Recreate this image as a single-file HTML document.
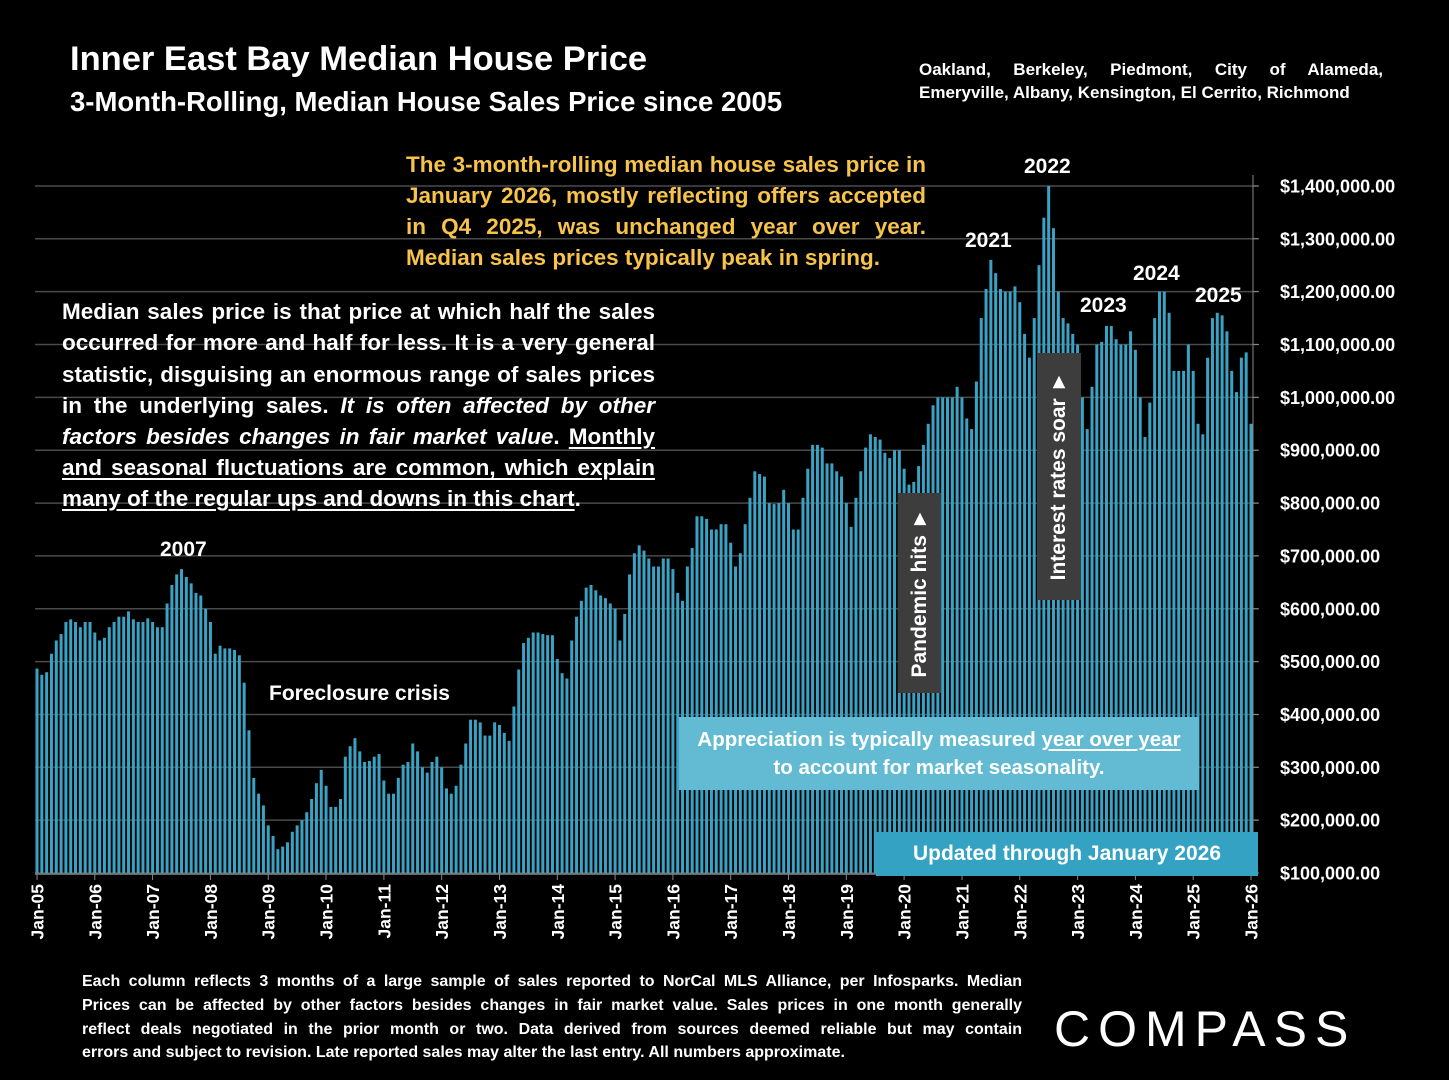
<!DOCTYPE html>
<html><head><meta charset="utf-8"><style>
body{margin:0;background:#000;width:1449px;height:1080px;overflow:hidden;position:relative;font-family:"Liberation Sans",sans-serif;}
.t{position:absolute;color:#fff;font-weight:bold;white-space:nowrap;}
.j{position:absolute;font-weight:bold;text-align:justify;text-align-last:justify;white-space:nowrap;}
.l{position:absolute;font-weight:bold;white-space:nowrap;}
u{text-decoration:underline;text-underline-offset:3px}
</style></head><body>
<svg id="s" width="1449" height="1080" style="position:absolute;left:0;top:0"></svg>
<div class="t" style="left:70px;top:40px;font-size:34.5px">Inner East Bay Median House Price</div>
<div class="t" style="left:70px;top:86px;font-size:27.5px">3-Month-Rolling, Median House Sales Price since 2005</div>
<div class="j" style="left:919px;top:60px;width:464px;font-size:17px;color:#fff">Oakland, Berkeley, Piedmont, City of Alameda,</div>
<div class="l" style="left:919px;top:83px;font-size:17px;color:#fff">Emeryville, Albany, Kensington, El Cerrito, Richmond</div>

<div style="color:#f7c34a;font-size:22.5px">
<div class="j" style="left:406px;top:152px;width:520px">The 3-month-rolling median house sales price in</div>
<div class="j" style="left:406px;top:183px;width:520px">January 2026, mostly reflecting offers accepted</div>
<div class="j" style="left:406px;top:214px;width:520px">in Q4 2025, was unchanged year over year.</div>
<div class="l" style="left:406px;top:245px;">Median sales prices typically peak in spring.</div>
</div>
<div style="color:#fff;font-size:22.5px">
<div class="j" style="left:62px;top:299px;width:593px">Median sales price is that price at which half the sales</div>
<div class="j" style="left:62px;top:330px;width:593px">occurred for more and half for less. It is a very general</div>
<div class="j" style="left:62px;top:362px;width:593px">statistic, disguising an enormous range of sales prices</div>
<div class="j" style="left:62px;top:393px;width:593px">in the underlying sales. <i>It is often affected by other</i></div>
<div class="j" style="left:62px;top:424px;width:593px"><i>factors besides changes in fair market value</i>. <u>Monthly</u></div>
<div class="j" style="left:62px;top:455px;width:593px"><u>and seasonal fluctuations are common, which explain</u></div>
<div class="l" style="left:62px;top:486px;"><u>many of the regular ups and downs in this chart</u>.</div>
</div>

<div class="t" style="left:160px;top:538px;font-size:21px">2007</div>
<div class="t" style="left:269px;top:682px;font-size:21px">Foreclosure crisis</div>
<div class="t" style="left:965px;top:229px;font-size:21px">2021</div>
<div class="t" style="left:1024px;top:155px;font-size:21px">2022</div>
<div class="t" style="left:1080px;top:294px;font-size:21px">2023</div>
<div class="t" style="left:1133px;top:262px;font-size:21px">2024</div>
<div class="t" style="left:1195px;top:284px;font-size:21px">2025</div>

<div style="position:absolute;left:679px;top:717px;width:520px;height:73px;background:#62bbd3;color:#fff;font-weight:bold;font-size:20.5px;text-align:center;line-height:28px;padding-top:9px;box-sizing:border-box">Appreciation is typically measured <u>year over year</u><br>to account for market seasonality.</div>
<div style="position:absolute;left:876px;top:832px;width:382px;height:44px;background:#34a2c2;color:#fff;font-weight:bold;font-size:21px;text-align:center;line-height:44px">Updated through January 2026</div>

<div style="position:absolute;left:898px;top:493px;width:43px;height:200px;background:#3d3d3d"></div>
<div class="t" style="left:920px;top:593px;font-size:21px;transform:translate(-50%,-50%) rotate(-90deg)">Pandemic hits ►</div>
<div style="position:absolute;left:1037px;top:353px;width:44px;height:247px;background:#3d3d3d"></div>
<div class="t" style="left:1059px;top:476px;font-size:21px;transform:translate(-50%,-50%) rotate(-90deg)">Interest rates soar ►</div>

<div style="position:absolute;left:82px;top:970px;color:#fff;font-weight:bold;font-size:16px;line-height:23.8px">
<div class="j" style="position:relative;width:940px">Each column reflects 3 months of a large sample of sales reported to NorCal MLS Alliance, per Infosparks. Median</div>
<div class="j" style="position:relative;width:940px">Prices can be affected by other factors besides changes in fair market value. Sales prices in one month generally</div>
<div class="j" style="position:relative;width:940px">reflect deals negotiated in the prior month or two. Data derived from sources deemed reliable but may contain</div>
<div class="l" style="position:relative;">errors and subject to revision. Late reported sales may alter the last entry. All numbers approximate.</div>
</div>
<div class="t" style="left:1054px;top:1000px;font-size:50px;font-weight:normal;letter-spacing:8px">COMPASS</div>

<script>
const v=[487,475,480,515,540,552,575,580,575,565,575,575,
555,540,545,565,575,585,585,595,580,575,575,582,
575,565,565,610,645,665,675,660,648,630,625,600,
575,515,530,525,525,522,512,460,370,280,250,228,
190,170,145,150,158,178,190,200,215,240,270,295,
265,225,225,240,320,340,355,330,310,312,320,325,
275,250,250,280,305,310,345,330,300,290,310,320,
300,260,250,265,305,345,390,390,385,360,360,385,
380,365,350,415,485,535,545,555,555,552,550,550,
505,478,468,540,585,615,640,645,635,625,620,610,
600,540,590,665,705,720,710,695,680,680,695,695,
675,630,615,680,715,775,775,770,750,750,760,760,
725,680,705,760,810,860,855,850,800,798,800,825,
800,750,750,810,865,910,910,905,875,875,860,850,
800,755,810,860,905,930,925,920,895,885,900,900,
865,835,840,870,910,950,985,1000,1000,1000,1000,1020,
1000,960,940,1030,1150,1205,1260,1235,1205,1200,1200,1210,
1180,1120,1075,1150,1250,1340,1400,1320,1200,1150,1140,1120,
1100,1000,940,1020,1100,1105,1135,1135,1110,1100,1100,1125,
1090,1000,925,990,1150,1200,1200,1160,1050,1050,1050,1100,
1050,950,930,1075,1150,1160,1155,1125,1050,1010,1075,1085,950];
const Y=k=>873-(k-100)*0.5285;
const X0=37,dx=(1251-37)/252;
let h='';
for(let k=100;k<=1400;k+=100){const y=Y(k).toFixed(1);
 h+=`<line x1="35" x2="1258" y1="${y}" y2="${y}" stroke="#4a4a4a" stroke-width="1.5"/>`;
 h+=`<line x1="1253" x2="1259" y1="${y}" y2="${y}" stroke="#888"/>`;
 h+=`<text x="1280" y="${(+y+6.5).toFixed(1)}" fill="#fff" font-size="18" font-weight="bold" font-family="Liberation Sans">$${k>=1000?Math.floor(k/1000)+','+String(k%1000).padStart(3,'0'):k},000.00</text>`;}
h+=`<line x1="1253" x2="1253" y1="175" y2="873" stroke="#888"/>`;
v.forEach((k,i)=>{const x=X0+i*dx-1.5;h+=`<rect x="${x.toFixed(2)}" y="${Y(k).toFixed(1)}" width="3" height="${(873-Y(k)).toFixed(1)}" fill="#3aa3c4"/>`;});
h+=`<line x1="35" x2="1253" y1="874" y2="874" stroke="#888" stroke-width="1.5"/>`;
for(let yr=0;yr<=21;yr++){const x=(X0+yr*12*dx).toFixed(1);
 h+=`<line x1="${x}" x2="${x}" y1="874" y2="880" stroke="#888"/>`;
 h+=`<text transform="translate(${(+x+6.5).toFixed(1)},884) rotate(-90)" text-anchor="end" fill="#fff" font-size="17.5" font-weight="bold" font-family="Liberation Sans">Jan-${String(5+yr).padStart(2,'0')}</text>`;}
document.getElementById('s').innerHTML=h;
</script>
</body></html>
